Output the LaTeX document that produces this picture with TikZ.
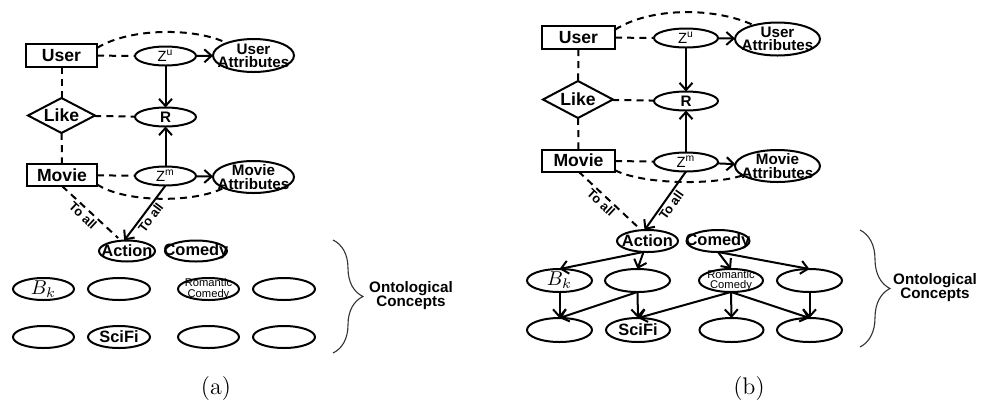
\documentclass[tikz,border=0pt]{standalone}
\usepackage{fontspec}
\usetikzlibrary{shapes.geometric,arrows.meta,decorations.pathreplacing}
\newfontfamily\arl{Liberation Sans}
\newcommand\entfont{\arl\bfseries\fontsize{8.8}{9}\selectfont}
\newcommand\attrfont{\arl\bfseries\fontsize{7.6}{6.6}\selectfont}
\newcommand\zfont{\arl\fontsize{7.4}{8}\selectfont}
\newcommand\rfont{\arl\bfseries\fontsize{7.6}{8}\selectfont}
\newcommand\cptfont{\arl\bfseries\fontsize{8.2}{9}\selectfont}
\newcommand\tinyfont{\arl\fontsize{5.6}{5.2}\selectfont}
\newcommand\toallfont{\arl\bfseries\fontsize{6.4}{7}\selectfont}
\newcommand\ontofont{\arl\bfseries\fontsize{7.6}{7}\selectfont}
\newcommand\mathlbl{\fontsize{10}{10}\selectfont}
\newcommand\capfont{\fontsize{12}{14}\selectfont}
\tikzset{
  ln/.style={line width=1pt},
  dsh/.style={ln, dash pattern=on 3.5pt off 2.6pt},
  arr/.style={ln, -{Straight Barb[length=3.6pt,width=6.5pt]}},
  shp/.style={draw, ln, inner sep=0pt, outer sep=0pt},
  ell/.style={shp, ellipse},
  ent/.style={shp, rectangle, font=\entfont},
  dia/.style={shp, diamond},
  toall/.style={font=\toallfont, sloped, below, inner sep=0.8pt},
  brc/.style={line width=0.55pt, black!80, decorate, decoration={brace, amplitude=15pt}},
  onto/.style={font=\ontofont, align=center},
  capt/.style={font=\capfont}
}
\begin{document}
\begin{tikzpicture}[x=0.5pt,y=0.5pt]
\useasboundingbox (0,0) rectangle (981,-403);

% ---------------- panel (a) ----------------
\node[ent, minimum width=35.5pt, minimum height=11.5pt] (au) at (61.5,-55.5) {User};
\node[ell, minimum width=30.5pt, minimum height=9.5pt, label={[font=\zfont]center:Z\textsuperscript{u}}] (azu) at (165.5,-56) {};
\node[ell, minimum width=40.5pt, minimum height=16.5pt, label={[font=\attrfont, align=center]center:User\\Attributes}] (aua) at (253.5,-55.5) {};
\node[dia, minimum width=33.5pt, minimum height=17.5pt, label={[font=\entfont]center:Like}] (alike) at (61.5,-115.5) {};
\node[ell, minimum width=30.5pt, minimum height=9.5pt, label={[font=\rfont]center:R}] (ar) at (165.5,-117) {};
\node[ent, minimum width=35pt, minimum height=11pt] (amv) at (62,-175) {Movie};
\node[ell, minimum width=30.5pt, minimum height=9.5pt, label={[font=\zfont]center:Z\textsuperscript{m}}] (azm) at (165.5,-176) {};
\node[ell, minimum width=40.5pt, minimum height=16pt, label={[font=\attrfont, align=center]center:Movie\\Attributes}] (ama) at (253.5,-177) {};

\node[ell, minimum width=28pt, minimum height=10.5pt, label={[font=\cptfont]center:Action}] (aact) at (127,-251) {};
\node[ell, minimum width=31pt, minimum height=10.5pt, label={[font=\cptfont]center:Comedy}] (acom) at (196,-251) {};
\node[ell, minimum width=30.5pt, minimum height=11pt, label={[font=\mathlbl]center:$B_k$}] (ab1) at (43.5,-289) {};
\node[ell, minimum width=31pt, minimum height=11pt] (ab2) at (119,-289) {};
\node[ell, minimum width=30.5pt, minimum height=11pt, label={[font=\tinyfont, align=center]center:Romantic\\Comedy}] (ab3) at (208.5,-289) {};
\node[ell, minimum width=31pt, minimum height=11pt] (ab4) at (284,-289) {};
\node[ell, minimum width=30.5pt, minimum height=11pt] (ac1) at (43.5,-337) {};
\node[ell, minimum width=31pt, minimum height=11pt, label={[font=\cptfont]center:SciFi}] (ac2) at (119,-337) {};
\node[ell, minimum width=30.5pt, minimum height=11pt] (ac3) at (208.5,-337) {};
\node[ell, minimum width=31pt, minimum height=11pt] (ac4) at (284,-337) {};

\draw[dsh] (au) -- (azu);
\draw[dsh] (alike) -- (ar);
\draw[dsh] (amv) -- (azm);
\draw[dsh] (au) -- (alike);
\draw[dsh] (alike) -- (amv);
\draw[arr] (azu) -- (aua);
\draw[arr] (azu) -- (ar);
\draw[arr] (azm) -- (ar);
\draw[arr] (azm) -- (ama);
\draw[dsh] (au.12) .. controls (130,-27.5) and (195,-27.5) .. (aua.155);
\draw[dsh] (amv.-15) .. controls (125,-203) and (195,-203) .. (ama.-160);
\draw[dsh, shorten >=2pt] (amv.south) -- node[toall, pos=0.44] {To all} (aact.120);
\draw[arr] (azm.south) -- node[toall, pos=0.5] {To all} (aact.105);

\coordinate (abt) at (333,-240);
\coordinate (abb) at (333,-353);
\draw[brc] (abt) -- (abb);
\node[onto] (aonto) at (411,-296) {Ontological\\Concepts};
\node[capt] (acap) at (216,-389) {(a)};

% ---------------- panel (b) ----------------
\node[ent, minimum width=36.5pt, minimum height=11.5pt] (bu) at (578.5,-37.5) {User};
\node[ell, minimum width=32pt, minimum height=9.5pt, label={[font=\zfont]center:Z\textsuperscript{u}}] (bzu) at (686,-38) {};
\node[ell, minimum width=42.5pt, minimum height=16.5pt, label={[font=\attrfont, align=center]center:User\\Attributes}] (bua) at (777.5,-39) {};
\node[dia, minimum width=35pt, minimum height=18.5pt, label={[font=\entfont]center:Like}] (blike) at (578,-99.5) {};
\node[ell, minimum width=32pt, minimum height=9.5pt, label={[font=\rfont]center:R}] (br) at (686,-101) {};
\node[ent, minimum width=36.5pt, minimum height=11pt] (bmv) at (578.5,-160.5) {Movie};
\node[ell, minimum width=32pt, minimum height=9.5pt, label={[font=\zfont]center:Z\textsuperscript{m}}] (bzm) at (686,-162) {};
\node[ell, minimum width=42.5pt, minimum height=16pt, label={[font=\attrfont, align=center]center:Movie\\Attributes}] (bma) at (777.5,-166) {};

\node[ell, minimum width=30.5pt, minimum height=11pt, label={[font=\cptfont]center:Action}] (bact) at (647.5,-241) {};
\node[ell, minimum width=31.5pt, minimum height=11pt, label={[font=\cptfont]center:Comedy}] (bcom) at (718,-241) {};
\node[ell, minimum width=32.5pt, minimum height=11.5pt, label={[font=\mathlbl]center:$B_k$}] (bb1) at (559.5,-280.5) {};
\node[ell, minimum width=32.5pt, minimum height=11.5pt] (bb2) at (637.5,-280.5) {};
\node[ell, minimum width=32pt, minimum height=11.5pt, label={[font=\tinyfont, align=center]center:Romantic\\Comedy}] (bb3) at (731,-280.5) {};
\node[ell, minimum width=32.5pt, minimum height=11.5pt] (bb4) at (809.5,-280.5) {};
\node[ell, minimum width=32.5pt, minimum height=12pt] (bc1) at (559.5,-330) {};
\node[ell, minimum width=32pt, minimum height=12pt, label={[font=\cptfont]center:SciFi}] (bc2) at (638,-330) {};
\node[ell, minimum width=32pt, minimum height=12pt] (bc3) at (731.5,-330) {};
\node[ell, minimum width=32.5pt, minimum height=12pt] (bc4) at (809.5,-330) {};

\draw[dsh] (bu) -- (bzu);
\draw[dsh] (blike) -- (br);
\draw[dsh] (bmv) -- (bzm);
\draw[dsh] (bu) -- (blike);
\draw[dsh] (blike) -- (bmv);
\draw[arr] (bzu) -- (bua);
\draw[arr] (bzu) -- (br);
\draw[arr] (bzm) -- (br);
\draw[arr] (bzm) -- (bma);
\draw[dsh] (bu.12) .. controls (650,-7) and (715,-7) .. (bua.150);
\draw[dsh] (bmv.-15) .. controls (645,-185) and (715,-185) .. (bma.-165);
\draw[dsh, shorten >=3pt] (bmv.south) -- node[toall, pos=0.44] {To all} (bact.120);
\draw[arr] (bzm.south) -- node[toall, pos=0.5] {To all} (bact.105);

\draw[arr] (bact.250) -- (bb1.north);
\draw[arr] (bact.250) -- (bb2.north);
\draw[arr] (bcom.south) -- (bb3.north);
\draw[arr] (bcom.south) -- (bb4.north);
\draw[arr] (bb1.south) -- (bc1.north);
\draw[arr] (bb2.south) -- (bc1.north);
\draw[arr] (bb2.south) -- (bc2.north);
\draw[arr] (bb3.south) -- (bc2.north);
\draw[arr] (bb3.south) -- (bc3.north);
\draw[arr] (bb3.south) -- (bc4.north);
\draw[arr] (bb4.south) -- (bc4.north);

\coordinate (bbt) at (860,-230);
\coordinate (bbb) at (860,-347);
\draw[brc] (bbt) -- (bbb);
\node[onto] (bonto) at (935,-288) {Ontological\\Concepts};
\node[capt] (bcap) at (749,-389) {(b)};
\end{tikzpicture}
\end{document}
